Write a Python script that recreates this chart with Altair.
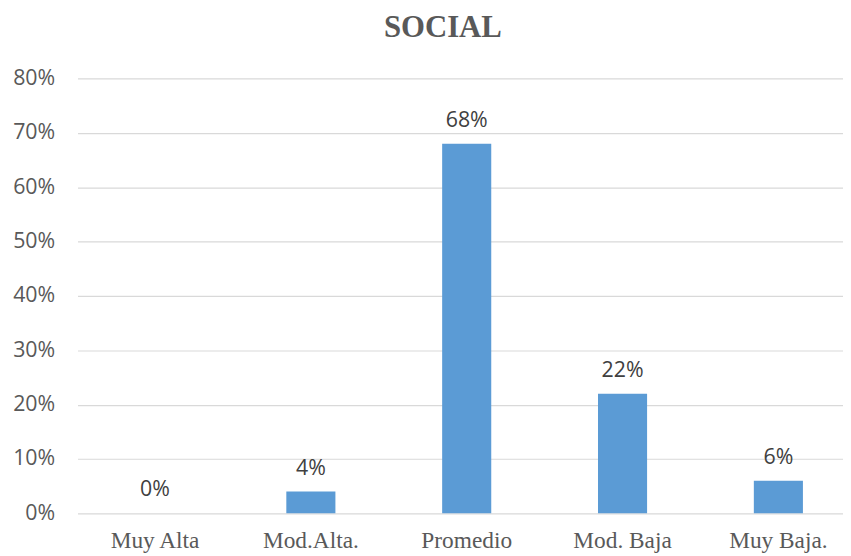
import altair as alt
import pandas as pd

categories = ["Muy Alta", "Mod.Alta.", "Promedio", "Mod. Baja", "Muy Baja."]
values = [0.00, 0.04, 0.68, 0.22, 0.06]
labels = ["0%", "4%", "68%", "22%", "6%"]

df = pd.DataFrame({"cat": categories, "val": values, "lab": labels})

x = alt.X("cat:N", sort=categories, title=None,
          scale=alt.Scale(range=[1, 785], paddingInner=0.685, paddingOuter=0.34),
          axis=alt.Axis(labelAngle=0, labelFont="Liberation Serif", labelFontSize=23.5,
                        labelColor="#595959", ticks=False, domain=False, labelPadding=15,
                        grid=False))
y = alt.Y("val:Q", title=None,
          scale=alt.Scale(domain=[0, 0.8], nice=False),
          axis=alt.Axis(format=".0%", values=[0, .1, .2, .3, .4, .5, .6, .7, .8],
                        labelFont="Open Sans", labelFontSize=21.5, labelColor="#595959",
                        ticks=False, domain=False, labelPadding=22, grid=True,
                        gridColor="#D9D9D9", gridWidth=1.2))

bars = alt.Chart(df).mark_bar(color="#5B9BD5").encode(x=x, y=y)
text = alt.Chart(df).mark_text(font="Open Sans", fontSize=21.5, color="#404040",
                               baseline="alphabetic", dy=-17).encode(
    x=alt.X("cat:N", sort=categories), y="val:Q", text="lab:N")

chart = (bars + text).properties(
    width=772, height=438,
    autosize=alt.AutoSizeParams(type="none"),
    padding={"left": 69, "top": 69, "right": 0, "bottom": 40},
    title=alt.TitleParams("SOCIAL", font="Liberation Serif", fontSize=31, fontWeight="bold",
                          color="#595959", anchor="middle", offset=24, dx=-17),
).configure_view(stroke=None)
chart.save("out.html", embed_options={"renderer": "svg", "actions": False})
